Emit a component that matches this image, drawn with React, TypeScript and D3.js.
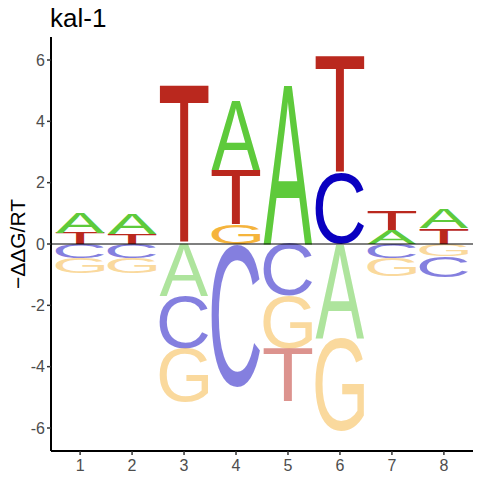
import React, { useMemo } from 'react';
import * as d3 from 'd3';

// per-position energy values (−ΔΔG/RT) for each base
const positions = [1, 2, 3, 4, 5, 6, 7, 8];
const bases = ['A', 'C', 'G', 'T'];
const valuesA = [0.65, 0.68, -1.69, 2.25, 5.16, -3.05, 0.46, 0.63];
const valuesC = [-0.46, -0.45, -1.71, -4.65, -1.70, 2.33, -0.45, -0.70];
const valuesG = [-0.50, -0.49, -1.76, 0.62, -1.72, -3.07, -0.59, -0.40];
const valuesT = [0.37, 0.32, 5.18, 1.79, -1.74, 3.80, 0.62, 0.51];
const yTicks = [-6, -4, -2, 0, 2, 4, 6];
const title = 'kal-1';
const yLabel = '−ΔΔG/RT';

const baseColors: Record<string, string> = {
  A: '#5ECA3B',
  C: '#0A00C0',
  G: '#F5B43C',
  T: '#BA281E',
};

const W = 480;
const H = 480;
const margin = { left: 51, right: 7, top: 37, bottom: 29 };
const FONT = "'Liberation Sans', Arial, sans-serif";
const letterWidth = 0.94;

type Glyph = { left: number; right: number; ascent: number; descent: number };

function measureGlyphs(): Record<string, Glyph> {
  const canvas = document.createElement('canvas');
  const ctx = canvas.getContext('2d')!;
  ctx.font = `100px ${FONT}`;
  const out: Record<string, Glyph> = {};
  bases.forEach(b => {
    const m = ctx.measureText(b);
    out[b] = {
      left: m.actualBoundingBoxLeft,
      right: m.actualBoundingBoxRight,
      ascent: m.actualBoundingBoxAscent,
      descent: m.actualBoundingBoxDescent,
    };
  });
  return out;
}

const App: React.FC = () => {
  const glyphs = useMemo(measureGlyphs, []);

  const x = d3.scaleLinear().domain([0.44, 8.56]).range([margin.left, W - margin.right]);
  const y = d3.scaleLinear().domain([-6.75, 6.75]).range([H - margin.bottom, margin.top]);

  const table: Record<string, number[]> = { A: valuesA, C: valuesC, G: valuesG, T: valuesT };

  // build stacks: smallest magnitude nearest zero
  const letters: { base: string; pos: number; y0: number; y1: number; neg: boolean }[] = [];
  positions.forEach((p, i) => {
    const vals = bases.map(b => ({ base: b, v: table[b][i] }));
    const pos = vals.filter(d => d.v > 0).sort((a, b) => a.v - b.v);
    const neg = vals.filter(d => d.v < 0).sort((a, b) => b.v - a.v);
    let acc = 0;
    pos.forEach(d => {
      letters.push({ base: d.base, pos: p, y0: acc, y1: acc + d.v, neg: false });
      acc += d.v;
    });
    acc = 0;
    neg.forEach(d => {
      letters.push({ base: d.base, pos: p, y0: acc + d.v, y1: acc, neg: true });
      acc += d.v;
    });
  });

  const x0 = margin.left;
  const x1 = W - margin.right;
  const yb = H - margin.bottom;

  return (
    <svg width={W} height={H} style={{ position: 'absolute', left: 0, top: 0, background: '#fff' }}>
      <text x={50} y={27} fontFamily={FONT} fontSize={26} fill="#000">{title}</text>

      {letters.map((d, i) => {
        const g = glyphs[d.base];
        const left = x(d.pos - letterWidth / 2);
        const right = x(d.pos + letterWidth / 2);
        const top = y(d.y1);
        const bottom = y(d.y0);
        const sx = (right - left) / (g.left + g.right);
        const sy = (bottom - top) / (g.ascent + g.descent);
        return (
          <text
            key={i}
            x={0}
            y={0}
            fontFamily={FONT}
            fontSize={100}
            fill={baseColors[d.base]}
            fillOpacity={d.neg ? 0.5 : 1}
            transform={`translate(${left},${top}) scale(${sx},${sy}) translate(${g.left},${g.ascent})`}
          >
            {d.base}
          </text>
        );
      })}

      {/* zero line */}
      <line x1={x0} x2={x1} y1={y(0)} y2={y(0)} stroke="#000" strokeWidth={1.2} />

      {/* axes */}
      <line x1={x0} x2={x0} y1={margin.top} y2={yb} stroke="#000" strokeWidth={2} />
      <line x1={x0} x2={x1} y1={yb} y2={yb} stroke="#000" strokeWidth={2} />

      {yTicks.map(t => (
        <g key={t}>
          <line x1={x0 - 4} x2={x0} y1={y(t)} y2={y(t)} stroke="#333" strokeWidth={1.5} />
          <text x={x0 - 6} y={y(t)} dy="0.36em" textAnchor="end" fontFamily={FONT} fontSize={16} fill="#4D4D4D">
            {t}
          </text>
        </g>
      ))}
      {positions.map(p => (
        <g key={p}>
          <line x1={x(p)} x2={x(p)} y1={yb} y2={yb + 4} stroke="#333" strokeWidth={1.5} />
          <text x={x(p)} y={yb + 20} textAnchor="middle" fontFamily={FONT} fontSize={16} fill="#4D4D4D">
            {p}
          </text>
        </g>
      ))}

      <text
        transform={`translate(25,${(margin.top + yb) / 2}) rotate(-90)`}
        textAnchor="middle"
        fontFamily={FONT}
        fontSize={21}
        fill="#000"
      >
        {yLabel}
      </text>
    </svg>
  );
};

export default App;
